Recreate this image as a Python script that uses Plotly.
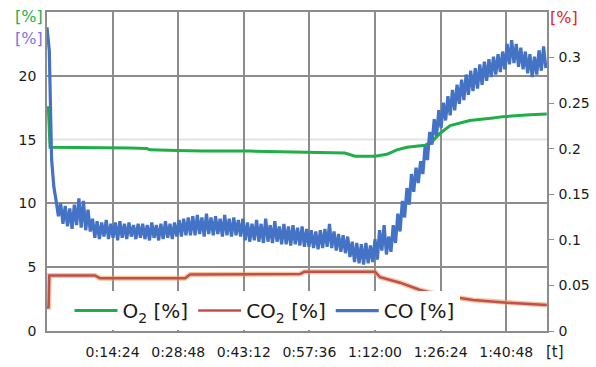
import numpy as np
import plotly.graph_objects as go

# ---- measured gas concentrations ----------------------------------------
# O2 [%] (left axis): time in minutes and value
o2_min = [0, 0.3, 0.66, 11.6, 18.2, 21.9, 22.6, 28.5, 34.2, 44.6, 62.1, 65.4,
          67.6, 72.0, 74.6, 76.8, 79.0, 83.0, 84.7, 86.3, 88.5, 92.8, 97.9,
          100.1, 106.0, 109.7]
o2_pct = [17.5, 17.5, 14.4, 14.4, 14.35, 14.3, 14.2, 14.15, 14.1, 14.1, 14.0,
          13.95, 13.7, 13.7, 13.85, 14.2, 14.4, 14.55, 14.9, 15.5, 16.1, 16.5,
          16.7, 16.8, 16.95, 17.0]

# CO2 [%] (right axis)
co2_min = [0, 0.35, 0.5, 10.5, 11.6, 30.3, 31.4, 55.5, 56.5, 72.0, 73.1, 77.5,
           81.9, 86.3, 93.5, 101.0, 109.7]
co2_pct = [0.026, 0.026, 0.061, 0.061, 0.058, 0.058, 0.062, 0.0625, 0.065,
           0.065, 0.059, 0.053, 0.045, 0.0395, 0.034, 0.031, 0.0285]

# CO [%] (left axis), logged every 30 s
co_pct = [
    23.8, 22.0, 13.5, 11.3, 10.2,
    9.0, 10.0, 8.4, 9.8, 8.2, 9.6, 8.0, 9.9, 8.3, 10.4, 8.1, 10.2, 7.9, 9.5, 7.8,
    8.8, 7.3, 8.6, 7.2, 8.5, 7.4, 8.7, 7.2, 8.4, 7.3, 8.5, 7.1, 8.6, 7.3, 8.4,
    7.2, 8.5, 7.4, 8.3, 7.2, 8.4, 7.3,
    8.4, 7.2, 8.3, 7.1, 8.5, 7.3, 8.3, 7.1, 8.4, 7.2, 8.6, 7.3, 8.4, 7.2, 8.5,
    7.4, 8.7, 7.4, 8.8, 7.5, 8.9, 7.5,
    9.0, 7.5, 9.1, 7.6, 8.9, 7.4, 9.2, 7.6, 8.9, 7.5, 9.0, 7.6, 8.8, 7.4, 9.1,
    7.5, 8.8, 7.4, 8.9, 7.5, 8.7, 7.4, 8.8,
    7.1, 8.5, 7.0, 8.4, 7.1, 8.7, 7.0, 8.4, 6.9, 8.8, 7.0, 8.3, 6.9, 8.6, 7.0,
    8.2, 6.8, 8.4, 6.8, 8.2, 6.7, 8.3, 6.8, 8.1, 6.7, 8.2, 6.6, 8.0, 6.6,
    7.9, 6.5, 7.8, 6.4, 7.9, 6.5, 8.0, 6.6, 8.4, 6.5, 7.8, 6.3, 7.6, 6.2, 7.5,
    6.1, 7.4,
    5.8, 7.0, 5.4, 6.9, 5.3, 6.8, 5.2, 6.9, 5.3, 6.7, 5.4,
    7.2, 5.6, 7.9, 6.3, 8.3, 6.0, 7.4, 6.2, 8.3, 6.9,
    9.2, 7.8, 10.2, 8.9, 11.2, 9.9, 12.3, 10.9, 12.8, 11.6,
    13.3, 12.3, 14.5, 13.4, 15.6, 14.6, 16.6, 15.3, 17.3, 15.9,
    17.9, 16.5, 18.4, 16.9, 18.9, 17.3, 19.3, 17.8, 19.7, 18.1,
    20.1, 18.5, 20.4, 18.8, 20.6, 19.0, 20.9, 19.3, 21.1, 19.6,
    21.3, 19.9, 21.5, 20.1, 21.7, 20.3, 21.9, 20.5, 22.5, 20.9,
    22.8, 21.0, 22.5, 20.7, 22.2, 20.5, 21.9, 20.2, 21.7, 19.9,
    21.5, 20.1, 22.0, 20.4, 22.3, 20.6,
]
co_min = 0.5 * np.arange(len(co_pct))

# time axis ticks (minutes) and their labels
tick_min = [14.4, 28.8, 43.2, 57.6, 72.0, 86.4, 100.8]
tick_txt = ["0:14:24", "0:28:48", "0:43:12", "0:57:36", "1:12:00", "1:26:24", "1:40:48"]

GREEN = "#1fae48"
RED = "#c0504d"
BLUE = "#4472c4"
GRID = "#8c8c8c"
FONT = "DejaVu Sans"

fig = go.Figure()

fig.add_trace(go.Scatter(x=o2_min, y=o2_pct, mode="lines", name="O<sub>2</sub> [%]",
                         line=dict(color=GREEN, width=3), legendrank=1))
# warm halo under the CO2 trace
fig.add_trace(go.Scatter(x=co2_min, y=co2_pct, mode="lines", yaxis="y2",
                         line=dict(color="#f0a060", width=5), opacity=0.6,
                         showlegend=False, hoverinfo="skip"))
fig.add_trace(go.Scatter(x=co2_min, y=co2_pct, mode="lines", yaxis="y2",
                         name="CO<sub>2</sub> [%]", line=dict(color=RED, width=2.5),
                         legendrank=2))
fig.add_trace(go.Scatter(x=co_min, y=co_pct, mode="lines", name="CO [%]",
                         line=dict(color=BLUE, width=3.2), legendrank=3))

# faint grid line at 15 %, beneath the regular grid
fig.add_shape(type="line", xref="x domain", yref="y", x0=0, x1=1, y0=15, y1=15,
              line=dict(color="#e4e4e4", width=2), layer="below")

fig.update_layout(
    width=596, height=367,
    margin=dict(l=47, r=49, t=12, b=36, autoexpand=False),
    paper_bgcolor="white", plot_bgcolor="white",
    font=dict(family=FONT, size=14, color="#1a1a1a"),
    showlegend=True,
    xaxis=dict(range=[0, 109.75], tickvals=tick_min, ticktext=tick_txt,
               showgrid=True, gridcolor=GRID, gridwidth=1.5,
               showline=True, linecolor=GRID, linewidth=1.5, mirror=True,
               zeroline=False, ticks="", ticklabelstandoff=7),
    yaxis=dict(range=[0, 25], tickvals=[0, 5, 10, 15, 20],
               showgrid=False,
               minor=dict(tickmode="array", tickvals=[0, 5, 10, 20, 25],
                          showgrid=True, gridcolor=GRID, gridwidth=1.5, ticks=""),
               showline=True, linecolor=GRID, linewidth=1.5, mirror=True,
               zeroline=False, ticks="", ticklabelstandoff=6),
    yaxis2=dict(range=[0, 0.35], overlaying="y", side="right",
                tickvals=[0, 0.05, 0.1, 0.15, 0.2, 0.25, 0.3],
                ticktext=["0", "0.05", "0.1", "0.15", "0.2", "0.25", "0.3"],
                showgrid=False, zeroline=False, showline=True, linecolor=GRID,
                linewidth=1.5, ticks="outside", ticklen=5, tickcolor=GRID,
                ticklabelstandoff=2),
    legend=dict(orientation="h", x=0.045, y=0.003, xanchor="left", yanchor="bottom",
                bgcolor="white", borderwidth=0, itemwidth=43,
                font=dict(family=FONT, size=20, color="#1a1a1a")),
)

# unit labels
fig.add_annotation(xref="paper", yref="paper", x=-0.036, y=0.987, text="[%]",
                   showarrow=False, xanchor="center", yanchor="middle",
                   font=dict(color="#22b050", size=16))
fig.add_annotation(xref="paper", yref="paper", x=-0.036, y=0.918, text="[%]",
                   showarrow=False, xanchor="center", yanchor="middle",
                   font=dict(color="#7a74e0", size=16))
fig.add_annotation(xref="paper", yref="paper", x=1.034, y=0.984, text="[%]",
                   showarrow=False, xanchor="center", yanchor="middle",
                   font=dict(color="#e02424", size=16))
fig.add_annotation(xref="paper", yref="paper", x=0.994, y=-0.066, text="[t]",
                   showarrow=False, xanchor="left", yanchor="middle",
                   font=dict(size=15))

fig.write_html("out.html")
